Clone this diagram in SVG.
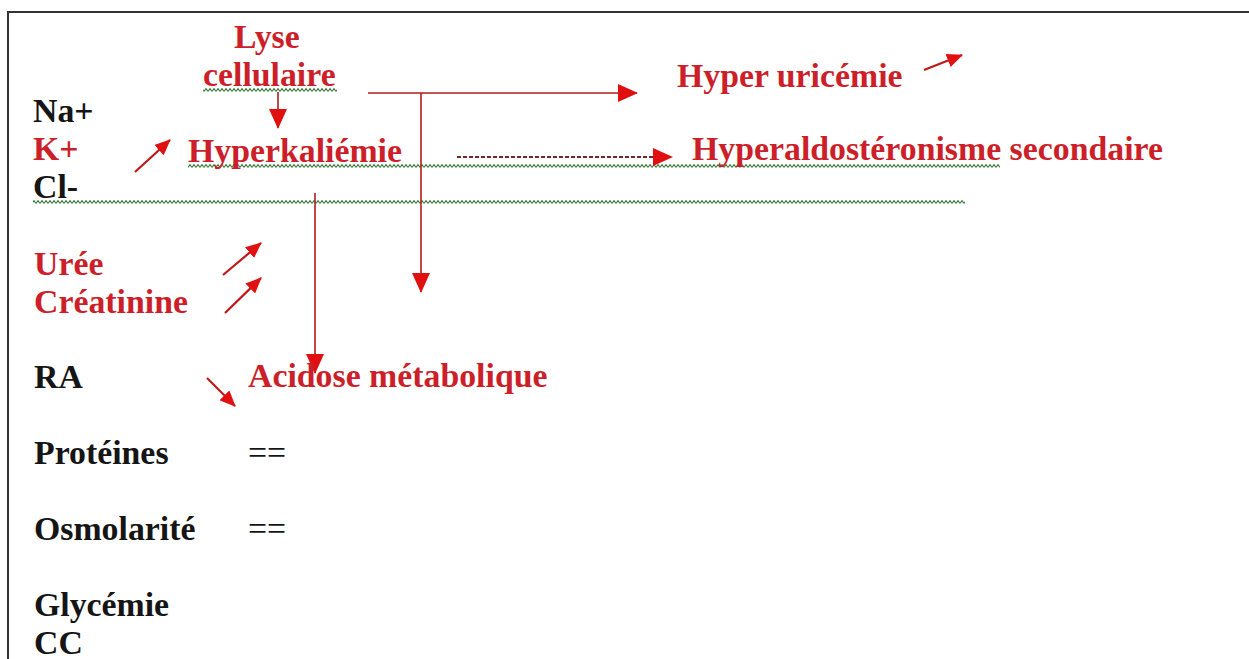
<svg xmlns="http://www.w3.org/2000/svg" width="1249" height="659" viewBox="0 0 1249 659">
<style>
  text { font-family: "Liberation Serif", "Times New Roman", serif; font-weight: bold; font-size: 33.8px; }
  .blk { fill: #151515; }
  .red { fill: #cc1f2a; }
  .ln { fill: none; stroke: #b01c1c; stroke-width: 1.6; }
  .dash { fill: none; stroke: #6e2a2a; stroke-width: 1.8; stroke-dasharray: 4 2; }
  .sm { fill: none; stroke: #c01818; stroke-width: 2.2; }
</style>
<defs>
  <marker id="ah" markerUnits="userSpaceOnUse" markerWidth="20" markerHeight="18" refX="19" refY="9" orient="auto">
    <path d="M0,0 L20,9 L0,18 z" fill="#e01010"/>
  </marker>
  <marker id="ahs" markerUnits="userSpaceOnUse" markerWidth="16" markerHeight="14" refX="15" refY="7" orient="auto">
    <path d="M0,0 L16,7 L0,14 z" fill="#e01010"/>
  </marker>
  <pattern id="wave" width="4" height="4" patternUnits="userSpaceOnUse">
    <path d="M0,3.4 L2,0.6 L4,3.4" fill="none" stroke="#3f7a3f" stroke-width="1.1"/>
  </pattern>
</defs>
<rect width="1249" height="659" fill="#ffffff"/>
<rect x="8" y="12" width="1300" height="700" fill="none" stroke="#333" stroke-width="2"/>

<g id="squiggles">
  <rect x="203" y="88" width="134" height="4" fill="url(#wave)"/>
  <rect x="188" y="164" width="812" height="4" fill="url(#wave)"/>
  <rect x="33" y="200" width="932" height="4" fill="url(#wave)"/>
</g>

<g id="connectors">
  <line class="ln" x1="278" y1="92" x2="278" y2="128" marker-end="url(#ah)"/>
  <line class="ln" x1="368" y1="93" x2="637" y2="93" marker-end="url(#ah)"/>
  <line class="ln" x1="421" y1="93" x2="421" y2="292" marker-end="url(#ah)"/>
  <line class="ln" x1="315" y1="193" x2="315" y2="373" marker-end="url(#ah)"/>
  <line class="dash" x1="457" y1="157" x2="672" y2="157" marker-end="url(#ah)"/>
  <line class="sm" x1="135" y1="172" x2="170" y2="140" marker-end="url(#ahs)"/>
  <line class="sm" x1="924" y1="70" x2="962" y2="55" marker-end="url(#ahs)"/>
  <line class="sm" x1="223" y1="275" x2="261" y2="243" marker-end="url(#ahs)"/>
  <line class="sm" x1="225" y1="313" x2="261" y2="278" marker-end="url(#ahs)"/>
  <line class="sm" x1="207" y1="378" x2="235" y2="406" marker-end="url(#ahs)"/>
</g>

<g id="lyse"><text class="red" x="234" y="48">Lyse</text><text class="red" x="203" y="86">cellulaire</text></g>
<g id="na"><text class="blk" x="33" y="122">Na+</text></g>
<g id="k"><text class="red" x="33" y="160">K+</text></g>
<g id="cl"><text class="blk" x="33" y="198">Cl-</text></g>
<g id="hyperkaliemie"><text class="red" x="188" y="162">Hyperkaliémie</text></g>
<g id="hyperuricemie"><text class="red" x="677" y="87">Hyper uricémie</text></g>
<g id="hyperaldo"><text class="red" x="692" y="160">Hyperaldostéronisme secondaire</text></g>
<g id="uree"><text class="red" x="34" y="275">Urée</text></g>
<g id="creatinine"><text class="red" x="34" y="313">Créatinine</text></g>
<g id="ra"><text class="blk" x="34" y="388">RA</text></g>
<g id="acidose"><text class="red" x="248" y="387">Acidose métabolique</text></g>
<g id="proteines"><text class="blk" x="34" y="464">Protéines</text><text class="blk" x="248" y="464" style="font-weight:normal">==</text></g>
<g id="osmolarite"><text class="blk" x="34" y="540">Osmolarité</text><text class="blk" x="248" y="540" style="font-weight:normal">==</text></g>
<g id="glycemie"><text class="blk" x="34" y="616">Glycémie</text></g>
<g id="cc"><text class="blk" x="34" y="654">CC</text></g>
</svg>
